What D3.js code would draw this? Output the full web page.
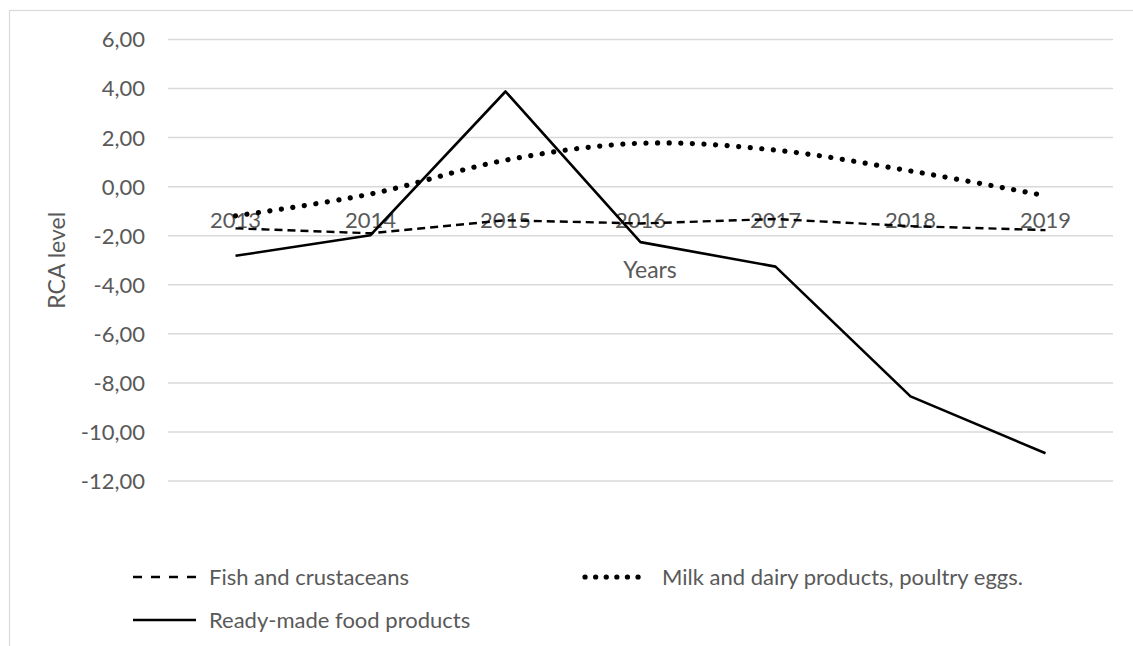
<!DOCTYPE html>
<html>
<head>
<meta charset="utf-8">
<script src="https://cdn.jsdelivr.net/npm/d3@7"></script>
<style>
  html, body { margin: 0; padding: 0; background: #fff; }
  text { font-family: Lato, "Open Sans", sans-serif; fill: #595959; }
</style>
</head>
<body>
<div id="chart"></div>
<script>
// 数据
const years = ['2013', '2014', '2015', '2016', '2017', '2018', '2019']
const fish = [-1.70, -1.90, -1.37, -1.50, -1.32, -1.61, -1.77]
const milk = [-1.19, -0.30, 1.08, 1.77, 1.49, 0.64, -0.37]
const ready = [-2.82, -1.98, 3.88, -2.26, -3.26, -8.55, -10.87]
const yTicks = [6, 4, 2, 0, -2, -4, -6, -8, -10, -12]

const seriesNames = ['Fish and crustaceans', 'Milk and dairy products, poultry eggs.', 'Ready-made food products']

const width = 1133
const height = 646
const margin = { top: 39.5, right: 20, bottom: 165, left: 168 }

// 线条样式
const lineStyle = [
  { dash: '8 5', width: 2.4, cap: 'butt' },
  { dash: '0.1 11.5', width: 5.2, cap: 'round' },
  { dash: null, width: 2.6, cap: 'butt' }
]

const svg = d3.select('#chart')
  .append('svg')
  .attr('width', width)
  .attr('height', height)

// 外框
svg.append('rect')
  .attr('x', 9.5)
  .attr('y', 10.5)
  .attr('width', width)
  .attr('height', height)
  .attr('fill', 'none')
  .attr('stroke', '#d9d9d9')
  .attr('stroke-width', 1.2)

// 比例尺
const x = d3.scaleBand()
  .domain(years)
  .range([margin.left, width - margin.right])
const y = d3.scaleLinear()
  .domain([-12, 6])
  .range([height - margin.bottom, margin.top])
const cx = (d) => x(d) + x.bandwidth() / 2

// 网格线
svg.append('g')
  .selectAll('line')
  .data(yTicks)
  .enter().append('line')
  .attr('x1', margin.left)
  .attr('x2', width - margin.right)
  .attr('y1', (d) => y(d))
  .attr('y2', (d) => y(d))
  .attr('stroke', '#d9d9d9')
  .attr('stroke-width', 1.5)

// y轴刻度文字
const fmt = (v) => d3.format('.2f')(v).replace('.', ',').replace('−', '-')
svg.append('g')
  .selectAll('text')
  .data(yTicks)
  .enter().append('text')
  .attr('x', 145)
  .attr('y', (d) => y(d))
  .attr('dy', '0.36em')
  .attr('text-anchor', 'end')
  .attr('font-size', 22)
  .text(fmt)

// x轴文字 (位于0轴下方)
svg.append('g')
  .selectAll('text')
  .data(years)
  .enter().append('text')
  .attr('x', cx)
  .attr('y', y(0) + 33)
  .attr('dy', '0.36em')
  .attr('text-anchor', 'middle')
  .attr('font-size', 22)
  .text((d) => d)

// 轴标题
svg.append('text')
  .attr('x', 650)
  .attr('y', 270)
  .attr('dy', '0.36em')
  .attr('text-anchor', 'middle')
  .attr('font-size', 23)
  .text('Years')
svg.append('text')
  .attr('transform', `translate(57, ${(y(6) + y(-12)) / 2}) rotate(-90)`)
  .attr('dy', '0.36em')
  .attr('text-anchor', 'middle')
  .attr('font-size', 23)
  .text('RCA level')

// 折线
const straight = d3.line()
  .x((d, i) => cx(years[i]))
  .y((d) => y(d))
const smooth = d3.line()
  .x((d, i) => cx(years[i]))
  .y((d) => y(d))
  .curve(d3.curveCatmullRom.alpha(0.5))

const lines = [
  { data: fish, gen: straight },
  { data: milk, gen: smooth },
  { data: ready, gen: straight }
]
lines.forEach((s, i) => {
  const st = lineStyle[i]
  svg.append('path')
    .attr('d', s.gen(s.data))
    .attr('fill', 'none')
    .attr('stroke', '#000')
    .attr('stroke-width', st.width)
    .attr('stroke-linecap', st.cap)
    .attr('stroke-linejoin', 'round')
    .attr('stroke-dasharray', st.dash)
})

// 图例
const legendPos = [
  { x: 133, y: 577 },
  { x: 585, y: 577 },
  { x: 133, y: 620 }
]
const legend = svg.append('g')
  .selectAll('g')
  .data(seriesNames)
  .enter().append('g')
  .attr('transform', (d, i) => `translate(${legendPos[i].x}, ${legendPos[i].y})`)
legend.append('line')
  .attr('x1', 0)
  .attr('x2', 63)
  .attr('y1', 0)
  .attr('y2', 0)
  .attr('stroke', '#000')
  .attr('stroke-width', (d, i) => lineStyle[i].width)
  .attr('stroke-linecap', (d, i) => lineStyle[i].cap)
  .attr('stroke-dasharray', (d, i) => i === 0 ? '9 9' : (i === 1 ? '0.1 10.5' : null))
legend.append('text')
  .attr('x', (d, i) => i === 1 ? 77 : 76)
  .attr('y', 0)
  .attr('dy', '0.36em')
  .attr('font-size', 22)
  .text((d) => d)
</script>
</body>
</html>
